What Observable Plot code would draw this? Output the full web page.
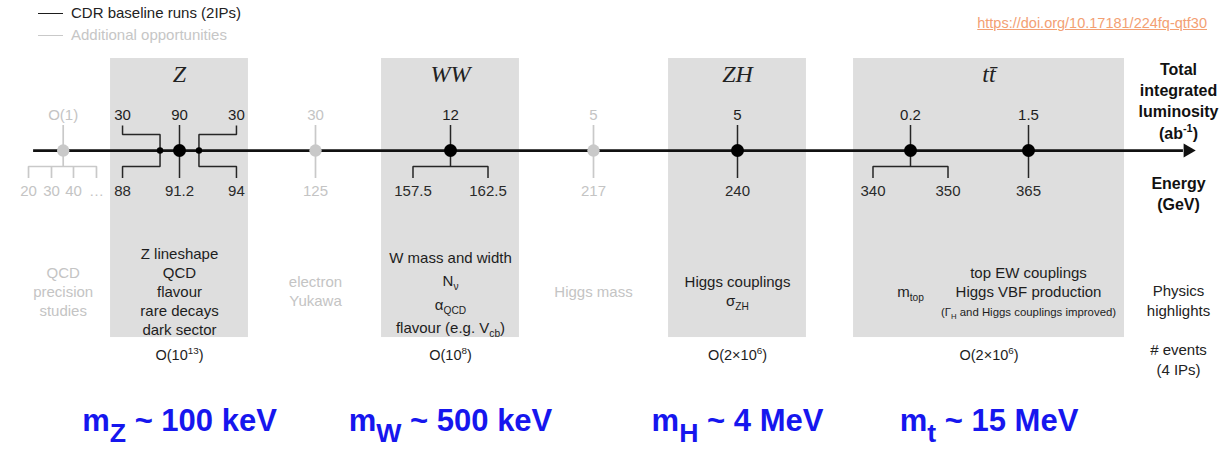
<!DOCTYPE html>
<html>
<head>
<meta charset="utf-8">
<script src="https://cdn.jsdelivr.net/npm/d3@7"></script>
<script src="https://cdn.jsdelivr.net/npm/@observablehq/plot@0.6"></script>
<style>
  html, body { margin: 0; padding: 0; background: #fff; width: 1230px; height: 449px; overflow: hidden; }
  body { font-family: "Liberation Sans", Arial, Helvetica, sans-serif; }
  #header { position: relative; width: 1230px; height: 48px; }
  .legend-item { position: absolute; left: 38px; height: 18px; display: flex; align-items: center; font-size: 15px; line-height: 18px; white-space: nowrap; }
  .legend-item .swatch { display: inline-block; width: 25px; height: 0; border-top: 1.6px solid; margin-right: 8px; }
  #doi { position: absolute; right: 23px; top: 14px; font-size: 14.5px; line-height: 18px; color: #f3a073; text-decoration: underline; white-space: nowrap; }
  #chart svg { display: block; }
</style>
</head>
<body>
<div id="header"></div>
<div id="chart"></div>
<script>
// ================= DATA =================
// schematic columns, left to right
const columns = ["low", "Z", "H125", "WW", "H217", "ZH", "tt350", "tt365", "labels"];

// runs placed on the energy axis
const runColumn   = ["low", "Z", "H125", "WW", "H217", "ZH", "tt350", "tt365"];
const runBaseline = [false, true, false, true, false, true, true, true];
const runLumi     = ["O(1)", "90", "30", "12", "5", "5", "0.2", "1.5"];           // ab^-1
const runEnergies = [["20", "30", "40", "…"], ["91.2"], ["125"], ["157.5", "162.5"], ["217"], ["240"], ["340", "350"], ["365"]]; // GeV

// Z-pole off-peak scan points
const zScanEnergy = ["88", "94"];
const zScanLumi   = ["30", "30"];

// shaded process blocks
const processName      = ["Z", "WW", "ZH", "tt\u0304"];
const processFirst     = ["Z", "WW", "ZH", "tt350"];
const processLast      = ["Z", "WW", "ZH", "tt365"];
const processEvents    = ["O(10^{13})", "O(10^{8})", "O(2×10^{6})", "O(2×10^{6})"];
const processPrecision = ["m_{Z} ~ 100 keV", "m_{W} ~ 500 keV", "m_{H} ~ 4 MeV", "m_{t} ~ 15 MeV"];

// physics highlights
const highlightColumn = ["low", "Z", "H125", "WW", "H217", "ZH", "tt350", "tt365"];
const highlightText = [
  "QCD\nprecision\nstudies",
  "Z lineshape\nQCD\nflavour\nrare decays\ndark sector",
  "electron\nYukawa",
  "W mass and width\nN_{ν}\nα_{QCD}\nflavour (e.g. V_{cb})",
  "Higgs mass",
  "Higgs couplings\nσ_{ZH}",
  "m_{top}",
  "top EW couplings\nHiggs VBF production\n~{(Γ_{H} and Higgs couplings improved)}"
];

// row labels on the right
const rowLabelText = ["Total\nintegrated\nluminosity\n(ab^{-1})", "Energy\n(GeV)", "Physics\nhighlights", "# events\n(4 IPs)"];

const legendText = ["CDR baseline runs (2IPs)", "Additional opportunities"];
const sourceText = "https://doi.org/10.17181/224fq-qtf30";

// ================= LAYOUT / STYLE =================
// column layout: each column keeps a constant local slope over its own extent
const COLUMN_PX = [62.7, 179, 315, 450, 593, 737, 910, 1028, 1178];
const COLUMN_EXTENT = [[-0.3, 0.3], [-0.49, 0.49], [-0.1, 0.1], [-0.49, 0.49], [-0.1, 0.1], [-0.49, 0.49], [-0.41, 0.6], [-0.15, 0.7], [-0.1, 0.1]];
const UNIT_PX = 141;
const columnLayout = d3.scaleLinear()
  .domain(columns.flatMap((_, i) => [i + COLUMN_EXTENT[i][0], i, i + COLUMN_EXTENT[i][1]]))
  .range(COLUMN_PX.flatMap((c, i) => [c + COLUMN_EXTENT[i][0] * UNIT_PX, c, c + COLUMN_EXTENT[i][1] * UNIT_PX]));

const ROW = {boxTop: -0.77, title: 0.05, lumi: 2.12, stemTop: 2.64, armTop: 2.67, arm: 3.13, axis: 3.95,
             bracket: 4.77, stemBottom: 5.36, energy: 6.05, physics: 11.13, boxBottom: 13.54,
             events: 14.46, precision: 17.8, rowLabels: [1.36, 6.1, 11.6, 14.6]};
const SPREAD = {2: [-0.266, 0.266], 4: [-0.246, -0.083, 0.073, 0.236]};
const Z_DOT = 0.138, Z_ARM = 0.404;
const BOX_PAD = [[0.489, 0.489], [0.489, 0.489], [0.489, 0.489], [0.404, 0.681]];
const BOX_CENTER = [0, 0, 0, 0.557];   // label centre, relative to the block's first column
const AXIS_FROM = -0.21, AXIS_TO = 0.035, ARROW_AT = 0.065;
const INK = "#1d1d1d", GREY = "#c4c4c4", GREY_LINE = "#c9c9c9", BOX = "#dedede", BLUE = "#1616ee";
const SANS = "Liberation Sans, Arial, Helvetica, sans-serif";

// ================= HEADER (legend + source) =================
const header = document.getElementById("header");
[[INK, "#222"], [GREY_LINE, "#c6c6c6"]].forEach(([line, txt], i) => {
  const item = document.createElement("div");
  item.className = "legend-item";
  item.style.top = (i === 0 ? 4 : 26) + "px";
  item.style.color = txt;
  const sw = document.createElement("span");
  sw.className = "swatch";
  sw.style.borderColor = line;
  item.append(sw, document.createTextNode(legendText[i]));
  header.append(item);
});
const doi = document.createElement("div");
doi.id = "doi";
doi.textContent = sourceText;
header.append(doi);

// ================= DERIVED TABLES =================
const col = c => columns.indexOf(c);
const isBase = c => { const i = runColumn.indexOf(c); return i < 0 ? true : runBaseline[i]; };
const offsets = n => SPREAD[n] || [0];
const runs = runColumn.map((c, i) => ({x: col(c), base: runBaseline[i], lumi: runLumi[i], energies: runEnergies[i]}));
const zx = col("Z");

const energyLabels = runs.flatMap(r => r.energies.map((e, j) => ({x: r.x + offsets(r.energies.length)[j], text: e, base: r.base})))
  .concat(zScanEnergy.map((e, j) => ({x: zx + (j ? Z_ARM : -Z_ARM), text: e, base: true})));
const lumiLabels = runs.map(r => ({x: r.x, text: r.lumi, base: r.base}))
  .concat(zScanLumi.map((l, j) => ({x: zx + (j ? Z_ARM : -Z_ARM), text: l, base: true})));

const segs = [];
let sid = 0;
const seg = (base, pts) => { const id = sid++; pts.forEach(([x, y]) => segs.push({id, base, x, y})); };
runs.forEach(r => {
  const n = r.energies.length;
  seg(r.base, [[r.x, ROW.stemTop], [r.x, n > 1 ? ROW.bracket : ROW.stemBottom]]);
  if (n > 1) {
    const off = offsets(n);
    seg(r.base, [[r.x + off[0], ROW.stemBottom], [r.x + off[0], ROW.bracket], [r.x + off[n - 1], ROW.bracket], [r.x + off[n - 1], ROW.stemBottom]]);
    off.slice(1, -1).forEach(o => seg(r.base, [[r.x + o, ROW.bracket], [r.x + o, ROW.stemBottom]]));
  }
});
[-1, 1].forEach(s => {
  seg(true, [[zx + s * Z_ARM, ROW.armTop], [zx + s * Z_ARM, ROW.arm], [zx + s * Z_DOT, ROW.arm], [zx + s * Z_DOT, ROW.axis]]);
  seg(true, [[zx + s * Z_DOT, ROW.axis], [zx + s * Z_DOT, ROW.bracket], [zx + s * Z_ARM, ROW.bracket], [zx + s * Z_ARM, ROW.stemBottom]]);
});

const mainDots = runs.map(r => ({x: r.x, base: r.base}));
const scanDots = [-1, 1].map(s => ({x: zx + s * Z_DOT}));

const boxes = processName.map((p, i) => ({
  name: p,
  x1: col(processFirst[i]) - BOX_PAD[i][0],
  x2: col(processLast[i]) + BOX_PAD[i][1],
  cx: col(processFirst[i]) + BOX_CENTER[i],
  events: processEvents[i],
  precision: processPrecision[i]
}));

const highlights = highlightColumn.map((c, i) => ({x: col(c), text: highlightText[i], base: isBase(c), wide: c === "WW"}));
const rowLabels = rowLabelText.map((t, i) => ({x: col("labels"), y: ROW.rowLabels[i], text: t, bold: i < 2}));

// ================= PLOT =================
const svg = Plot.plot({
  width: 1230,
  height: 401,
  margin: 0,
  x: {transform: columnLayout, domain: [0, 1230], range: [0, 1230], axis: null},
  y: {domain: [0, 18], range: [25, 376], axis: null},
  color: {type: "identity"},
  style: {fontFamily: SANS, background: "white", overflow: "visible"},
  marks: [
    Plot.rect(boxes, {x1: "x1", x2: "x2", y1: ROW.boxTop, y2: ROW.boxBottom, fill: BOX}),
    Plot.ruleY([ROW.axis], {y: d => d, x1: col("low") + AXIS_FROM, x2: col("labels") + AXIS_TO, stroke: "#111", strokeWidth: 2.7}),
    Plot.dot([ROW.axis], {x: col("labels") + ARROW_AT, y: d => d, symbol: "triangle", rotate: 90, r: 5.2, fill: "#111", stroke: "none"}),
    Plot.line(segs.filter(d => !d.base), {x: "x", y: "y", z: "id", stroke: GREY_LINE, strokeWidth: 1.7, strokeLinejoin: "miter", strokeLinecap: "butt", curve: "linear"}),
    Plot.line(segs.filter(d => d.base), {x: "x", y: "y", z: "id", stroke: "#262626", strokeWidth: 1.5, strokeLinejoin: "miter", strokeLinecap: "butt", curve: "linear"}),
    Plot.dot(mainDots.filter(d => !d.base), {x: "x", y: ROW.axis, r: 6.2, fill: GREY_LINE, stroke: "none"}),
    Plot.dot(mainDots.filter(d => d.base), {x: "x", y: ROW.axis, r: 6.5, fill: "#000", stroke: "none"}),
    Plot.dot(scanDots, {x: "x", y: ROW.axis, r: 3.2, fill: "#000", stroke: "none"}),
    // luminosities and energies
    Plot.text(lumiLabels, {x: "x", y: ROW.lumi, text: "text", fill: d => d.base ? INK : GREY, fontSize: 15}),
    Plot.text(energyLabels, {x: "x", y: ROW.energy, text: "text", fill: d => d.base ? "#2a2a2a" : GREY, fontSize: 15}),
    // process titles
    Plot.text(boxes, {x: "cx", y: ROW.title, text: "name", fill: "#222", fontSize: 24, fontStyle: "italic", fontFamily: "Liberation Serif, serif", letterSpacing: 2}),
    // physics highlights
    Plot.text(highlights.filter(d => !d.wide), {x: "x", y: ROW.physics, text: "text", fill: d => d.base ? INK : GREY, fontSize: 15, lineHeight: 1.27}),
    Plot.text(highlights.filter(d => d.wide), {x: "x", y: ROW.physics, text: "text", fill: INK, fontSize: 15, lineHeight: 1.55}),
    // events
    Plot.text(boxes, {x: "cx", y: ROW.events, text: "events", fill: INK, fontSize: 14.5}),
    // precision on masses
    Plot.text(boxes, {x: "cx", y: ROW.precision, text: "precision", fill: BLUE, fontSize: 31, fontWeight: "bold"}),
    // row labels
    Plot.text(rowLabels.filter(d => d.bold), {x: "x", y: "y", text: "text", fill: "#111", fontSize: 16, fontWeight: "bold", lineHeight: 1.33}),
    Plot.text(rowLabels.filter(d => !d.bold), {x: "x", y: "y", text: "text", fill: "#222", fontSize: 15, lineHeight: 1.33})
  ]
});
document.getElementById("chart").append(svg);

// ================= RICH TEXT (sub/superscripts) =================
function parseRich(str, big) {
  const out = [];
  const stack = [{scale: 1, shift: 0}];
  let buf = "";
  const flush = () => { if (buf) { const t = stack[stack.length - 1]; out.push({text: buf, scale: t.scale, shift: t.shift}); buf = ""; } };
  for (let i = 0; i < str.length; i++) {
    const ch = str[i];
    if ((ch === "_" || ch === "^" || ch === "~") && str[i + 1] === "{") {
      flush();
      const top = stack[stack.length - 1];
      const k = ch === "~" ? 0.76 : (big ? 0.86 : 0.68);
      const sh = ch === "_" ? (big ? 0.38 : 0.27) : ch === "^" ? -0.4 : 0;
      stack.push({scale: top.scale * k, shift: top.shift + sh * top.scale});
      i++;
    } else if (ch === "}" && stack.length > 1) {
      flush();
      stack.pop();
    } else buf += ch;
  }
  flush();
  return out;
}
function applyRich(root) {
  const NS = "http://www.w3.org/2000/svg";
  const nodes = [...root.querySelectorAll("text, tspan")].filter(el =>
    el.childNodes.length === 1 && el.firstChild.nodeType === 3 && /[_^~]\{/.test(el.textContent));
  for (const el of nodes) {
    const base = parseFloat(getComputedStyle(el).fontSize) || 15;
    const parts = parseRich(el.textContent, base >= 24);
    el.textContent = "";
    let cur = 0;
    for (const p of parts) {
      const t = document.createElementNS(NS, "tspan");
      if (p.scale !== 1) t.setAttribute("font-size", (base * p.scale).toFixed(2));
      const target = p.shift * base;
      if (Math.abs(target - cur) > 1e-6) t.setAttribute("dy", (target - cur).toFixed(2));
      cur = target;
      t.textContent = p.text;
      el.appendChild(t);
    }
    // a line that ends shifted: fold the reset into the next line's offset
    const next = el.nextElementSibling;
    if (Math.abs(cur) > 1e-6 && next && next.tagName.toLowerCase() === "tspan") {
      const dy = next.getAttribute("dy") || "0";
      const px = dy.endsWith("em") ? parseFloat(dy) * base : parseFloat(dy);
      next.setAttribute("dy", (px - cur).toFixed(2));
    }
  }
}
applyRich(svg);
</script>
</body>
</html>
